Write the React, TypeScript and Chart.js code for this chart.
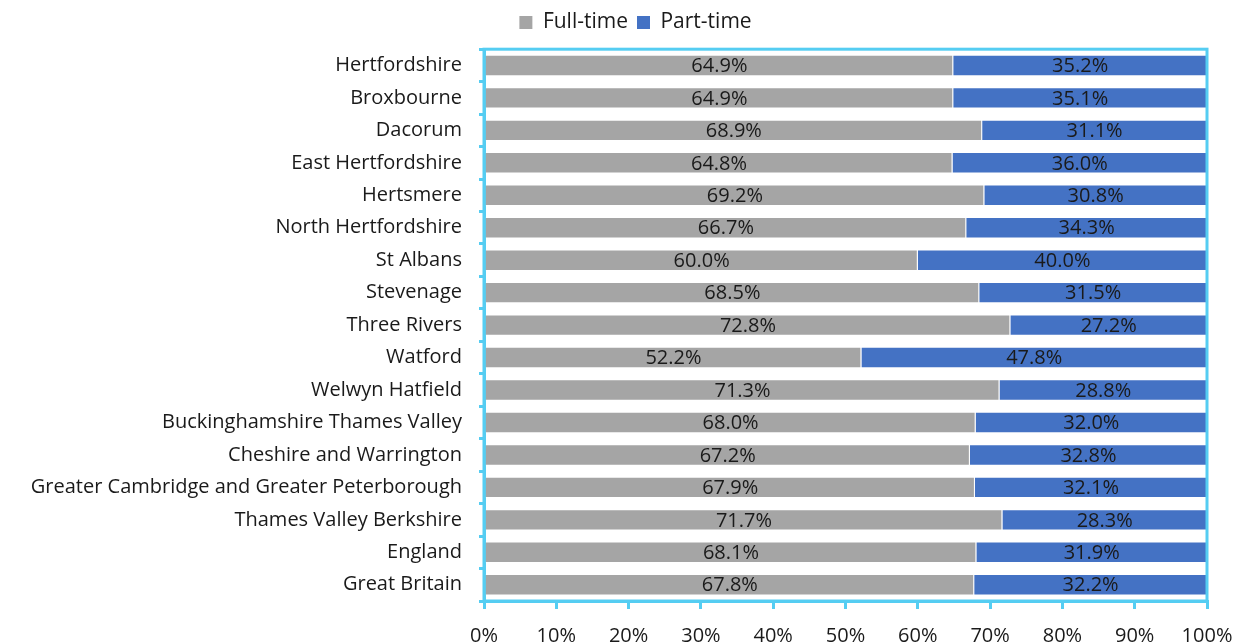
import React, { useEffect, useRef } from "react";
import { Chart, registerables } from "chart.js";
Chart.register(...registerables);

const categories = [
  "Hertfordshire",
  "Broxbourne",
  "Dacorum",
  "East Hertfordshire",
  "Hertsmere",
  "North Hertfordshire",
  "St Albans",
  "Stevenage",
  "Three Rivers",
  "Watford",
  "Welwyn Hatfield",
  "Buckinghamshire Thames Valley",
  "Cheshire and Warrington",
  "Greater Cambridge and Greater Peterborough",
  "Thames Valley Berkshire",
  "England",
  "Great Britain",
];
const fullTime = [64.9, 64.9, 68.9, 64.8, 69.2, 66.7, 60.0, 68.5, 72.8, 52.2, 71.3, 68.0, 67.2, 67.9, 71.7, 68.1, 67.8];
const partTime = [35.2, 35.1, 31.1, 36.0, 30.8, 34.3, 40.0, 31.5, 27.2, 47.8, 28.8, 32.0, 32.8, 32.1, 28.3, 31.9, 32.2];
const xTicks = [0, 10, 20, 30, 40, 50, 60, 70, 80, 90, 100];

const FONT = "Open Sans";
const FRAME = "#55CDF2";
const GREY = "#A5A5A5";
const BLUE = "#4472C4";
const TEXT = "#1a1a1a";

export default function App() {
  const ref = useRef<HTMLCanvasElement>(null);
  useEffect(() => {
    document.body.style.margin = "0";
    const canvas = ref.current!;
    const framePlugin = {
      id: "frame",
      afterLayout(chart: any) {
        const lg = chart.legend;
        if (lg) {
          lg.left += 32;
          lg.right += 32;
        }
      },
      afterDatasetsDraw(chart: any) {
        const { left, top, right, bottom } = chart.chartArea;
        const ctx = chart.ctx;
        ctx.save();
        ctx.strokeStyle = FRAME;
        ctx.lineWidth = 3;
        ctx.strokeRect(left, top, right - left, bottom - top);
        ctx.restore();
      },
    };
    const labelPlugin = {
      id: "barLabels",
      afterDatasetsDraw(chart: any) {
        const ctx = chart.ctx;
        const area = chart.chartArea;
        ctx.save();
        ctx.font = `20px "${FONT}"`;
        ctx.fillStyle = TEXT;
        ctx.textAlign = "center";
        ctx.textBaseline = "middle";
        chart.data.datasets.forEach((ds: any, di: number) => {
          const meta = chart.getDatasetMeta(di);
          meta.data.forEach((bar: any, i: number) => {
            const x1 = Math.max(area.left, Math.min(bar.base, bar.x));
            const x2 = Math.min(area.right, Math.max(bar.base, bar.x));
            const v = ds.data[i] as number;
            ctx.fillText(v.toFixed(1) + "%", (x1 + x2) / 2, bar.y + 1);
          });
        });
        ctx.restore();
      },
    };
    const chart = new Chart(canvas, {
      type: "bar",
      data: {
        labels: categories,
        datasets: [
          { label: "Full-time", data: fullTime, backgroundColor: GREY, borderColor: "rgba(255,255,255,0.5)", borderWidth: 1, categoryPercentage: 1, barPercentage: 0.66 },
          { label: "Part-time", data: partTime, backgroundColor: BLUE, borderColor: "rgba(255,255,255,0.5)", borderWidth: 1, categoryPercentage: 1, barPercentage: 0.66 },
        ],
      },
      options: {
        indexAxis: "y",
        animation: false,
        responsive: true,
        maintainAspectRatio: false,
        layout: { padding: { top: 3, right: 30, bottom: 0, left: 0 } },
        plugins: {
          legend: {
            position: "top",
            labels: {
              font: { family: FONT, size: 21 },
              color: TEXT,
              boxWidth: 13,
              boxHeight: 13,
              padding: 9,
              generateLabels: (chart: any) =>
                chart.data.datasets.map((ds: any, i: number) => ({
                  text: ds.label,
                  fillStyle: ds.backgroundColor,
                  strokeStyle: ds.backgroundColor,
                  lineWidth: 0,
                  datasetIndex: i,
                  fontColor: TEXT,
                })),
            },
          },
          title: {
            display: true,
            text: "",
            weight: 500,
            font: { size: 1 },
            padding: { top: 0, bottom: 5 },
          },
          tooltip: { enabled: false },
        },
        scales: {
          x: {
            stacked: true,
            min: 0,
            max: 100,
            afterBuildTicks: (scale: any) => {
              scale.ticks = xTicks.map((v) => ({ value: v }));
            },
            afterFit: (scale: any) => {
              scale.height = 41;
              scale.paddingLeft = 0;
              scale.paddingRight = 0;
            },
            ticks: {
              callback: (v: any) => v + "%",
              font: { family: FONT, size: 20 },
              color: TEXT,
              padding: 15,
              maxRotation: 0,
            },
            grid: { drawOnChartArea: false, drawTicks: true, tickLength: 8, color: FRAME, lineWidth: 3 },
            border: { display: true, color: FRAME, width: 3 },
          },
          y: {
            stacked: true,
            afterFit: (scale: any) => {
              scale.width = 484;
            },
            ticks: {
              font: { family: FONT, size: 20 },
              color: TEXT,
              padding: 17,
              autoSkip: false,
            },
            grid: { drawOnChartArea: false, drawTicks: true, tickLength: 5, color: FRAME, lineWidth: 3, offset: true },
            border: { display: true, color: FRAME, width: 3 },
          },
        },
      },
      plugins: [framePlugin, labelPlugin],
    });
    return () => chart.destroy();
  }, []);
  return (
    <div style={{ width: 1237, height: 642, position: "relative" }}>
      <canvas ref={ref} />
    </div>
  );
}
